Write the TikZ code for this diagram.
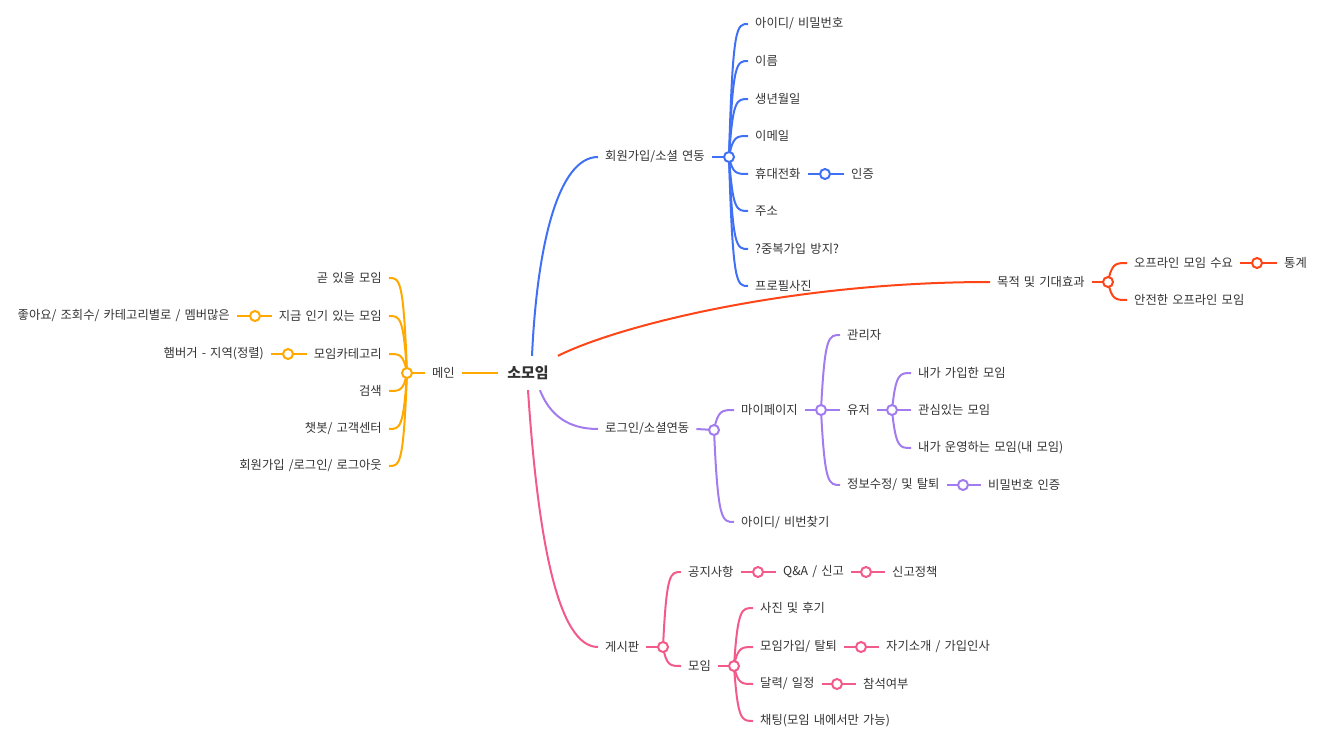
\documentclass[tikz,border=0pt]{standalone}
\usepackage{fontspec}
\setmainfont{Noto Sans CJK KR}[WordSpace={1.5,1,1}]
\usetikzlibrary{calc}
\definecolor{cb}{HTML}{4070F4}
\definecolor{cr}{HTML}{FF4517}
\definecolor{co}{HTML}{FFA800}
\definecolor{cp}{HTML}{A27CEF}
\definecolor{ck}{HTML}{F25A8A}
\definecolor{txt}{HTML}{333333}
\pgfdeclarelayer{bg}
\pgfsetlayers{bg,main}
% branch from a hub to a child anchor
\newcommand\brn[3]{\draw[wire=#1] let \p1=(#2.center), \p2=(#3) in
  (\p1) .. controls (0.8*\x1+0.2*\x2, \y2) and (0.6*\x1+0.4*\x2, \y2) .. (\p2);}
\begin{document}
\begin{tikzpicture}[x=1pt,y=-1pt,
  lbl/.style={font=\fontsize{12.3}{14}\selectfont, text=txt, inner xsep=7pt, inner ysep=2pt},
  rlbl/.style={lbl, anchor=west},
  llbl/.style={lbl, anchor=east},
  hub/.style={circle, draw=#1, fill=white, line width=2pt, minimum size=10pt, inner sep=0pt},
  wire/.style={draw=#1, line width=2pt},
]
\useasboundingbox (0,0) rectangle (1332,741);

% root
\node[font=\bfseries\fontsize{15}{18}\selectfont, text=txt, inner xsep=9pt, inner ysep=10pt] (root) at (528,373) {소모임};

% ---------------- blue
\node[rlbl] (b0) at (598,157) {회원가입/소셜 연동};
\node[hub=cb] (bd) at (729,157) {};
\node[rlbl] (b1) at (748,24) {아이디/ 비밀번호};
\node[rlbl] (b2) at (748,61) {이름};
\node[rlbl] (b3) at (748,99) {생년월일};
\node[rlbl] (b4) at (748,136) {이메일};
\node[rlbl] (b5) at (748,174) {휴대전화};
\node[rlbl] (b6) at (748,211) {주소};
\node[rlbl] (b7) at (748,249) {?중복가입 방지?};
\node[rlbl] (b8) at (748,286) {프로필사진};
\node[hub=cb] (bd2) at (825,174) {};
\node[rlbl] (b9) at (844,174) {인증};

% ---------------- red
\node[rlbl] (r0) at (990,282) {목적 및 기대효과};
\node[hub=cr] (rd) at (1108,282) {};
\node[rlbl] (r1) at (1127,263) {오프라인 모임 수요};
\node[rlbl] (r2) at (1127,300) {안전한 오프라인 모임};
\node[hub=cr] (rd2) at (1257,263) {};
\node[rlbl] (r3) at (1277,263) {통계};

% ---------------- orange
\node[llbl] (o0) at (462,373) {메인};
\node[hub=co] (od) at (407,373) {};
\node[llbl] (o1) at (389,278) {곧 있을 모임};
\node[llbl] (o2) at (389,316) {지금 인기 있는 모임};
\node[llbl] (o3) at (389,354) {모임카테고리};
\node[llbl] (o4) at (389,391) {검색};
\node[llbl] (o5) at (389,429) {챗봇/ 고객센터};
\node[llbl] (o6) at (389,466) {회원가입 /로그인/ 로그아웃};
\node[hub=co] (od2) at (255,316) {};
\node[llbl] (o7) at (237,316) {좋아요/ 조회수/ 카테고리별로 / 멤버많은};
\node[hub=co] (od3) at (288,354) {};
\node[llbl] (o8) at (271,354) {햄버거 - 지역(정렬)};

% ---------------- purple
\node[rlbl] (p0) at (598,429) {로그인/소셜연동};
\node[hub=cp] (pd) at (714,430) {};
\node[rlbl] (p1) at (734,410) {마이페이지};
\node[rlbl] (p2) at (734,522) {아이디/ 비번찾기};
\node[hub=cp] (pd2) at (821,410) {};
\node[rlbl] (p3) at (840,335) {관리자};
\node[rlbl] (p4) at (840,410) {유저};
\node[rlbl] (p5) at (840,485) {정보수정/ 및 탈퇴};
\node[hub=cp] (pd3) at (892,410) {};
\node[rlbl] (p6) at (911,373) {내가 가입한 모임};
\node[rlbl] (p7) at (911,410) {관심있는 모임};
\node[rlbl] (p8) at (911,448) {내가 운영하는 모임(내 모임)};
\node[hub=cp] (pd4) at (963,485) {};
\node[rlbl] (p9) at (981,485) {비밀번호 인증};

% ---------------- pink
\node[rlbl] (k0) at (598,647) {게시판};
\node[hub=ck] (kd) at (663,647) {};
\node[rlbl] (k1) at (681,572) {공지사항};
\node[rlbl] (k2) at (681,666) {모임};
\node[hub=ck] (kd2) at (758,572) {};
\node[rlbl] (k3) at (776,572) {Q\&A / 신고};
\node[hub=ck] (kd3) at (866,572) {};
\node[rlbl] (k4) at (885,572) {신고정책};
\node[hub=ck] (kd4) at (734,666) {};
\node[rlbl] (k5) at (753,608) {사진 및 후기};
\node[rlbl] (k6) at (753,647) {모임가입/ 탈퇴};
\node[rlbl] (k7) at (753,684) {달력/ 일정};
\node[rlbl] (k8) at (753,721) {채팅(모임 내에서만 가능)};
\node[hub=ck] (kd5) at (861,647) {};
\node[rlbl] (k9) at (879,647) {자기소개 / 가입인사};
\node[hub=ck] (kd6) at (837,684) {};
\node[rlbl] (k10) at (856,684) {참석여부};

\begin{pgfonlayer}{bg}
% blue
\draw[wire=cb] ([xshift=4pt]root.north) .. controls +(5,-110) and +(-40,0) .. (b0.west);
\draw[wire=cb] (b0.east) -- (bd.center);
\foreach \q in {b1,b2,b3,b4,b5,b6,b7,b8} {\brn{cb}{bd}{\q.west}}
\draw[wire=cb] (b5.east) -- (bd2.center) -- (b9.west);
% red
\draw[wire=cr] (root.north east) .. controls +(60,-30) and +(-200,0) .. (r0.west);
\draw[wire=cr] (r0.east) -- (rd.center);
\foreach \q in {r1,r2} {\brn{cr}{rd}{\q.west}}
\draw[wire=cr] (r1.east) -- (rd2.center) -- (r3.west);
% orange
\draw[wire=co] (root.west) -- (o0.east);
\draw[wire=co] (o0.west) -- (od.center);
\foreach \q in {o1,o2,o3,o4,o5,o6} {\brn{co}{od}{\q.east}}
\draw[wire=co] (o2.west) -- (od2.center) -- (o7.east);
\draw[wire=co] (o3.west) -- (od3.center) -- (o8.east);
% purple
\draw[wire=cp] ([xshift=-18pt]root.south east) .. controls +(10,25) and +(-30,0) .. (p0.west);
\draw[wire=cp] (p0.east) -- (pd.center);
\foreach \q in {p1,p2} {\brn{cp}{pd}{\q.west}}
\draw[wire=cp] (p1.east) -- (pd2.center);
\foreach \q in {p3,p4,p5} {\brn{cp}{pd2}{\q.west}}
\draw[wire=cp] (p4.east) -- (pd3.center);
\foreach \q in {p6,p7,p8} {\brn{cp}{pd3}{\q.west}}
\draw[wire=cp] (p5.east) -- (pd4.center) -- (p9.west);
% pink
\draw[wire=ck] (root.south) .. controls +(10,150) and +(-40,0) .. (k0.west);
\draw[wire=ck] (k0.east) -- (kd.center);
\foreach \q in {k1,k2} {\brn{ck}{kd}{\q.west}}
\draw[wire=ck] (k1.east) -- (kd2.center) -- (k3.west);
\draw[wire=ck] (k3.east) -- (kd3.center) -- (k4.west);
\draw[wire=ck] (k2.east) -- (kd4.center);
\foreach \q in {k5,k6,k7,k8} {\brn{ck}{kd4}{\q.west}}
\draw[wire=ck] (k6.east) -- (kd5.center) -- (k9.west);
\draw[wire=ck] (k7.east) -- (kd6.center) -- (k10.west);
\end{pgfonlayer}
\end{tikzpicture}
\end{document}
